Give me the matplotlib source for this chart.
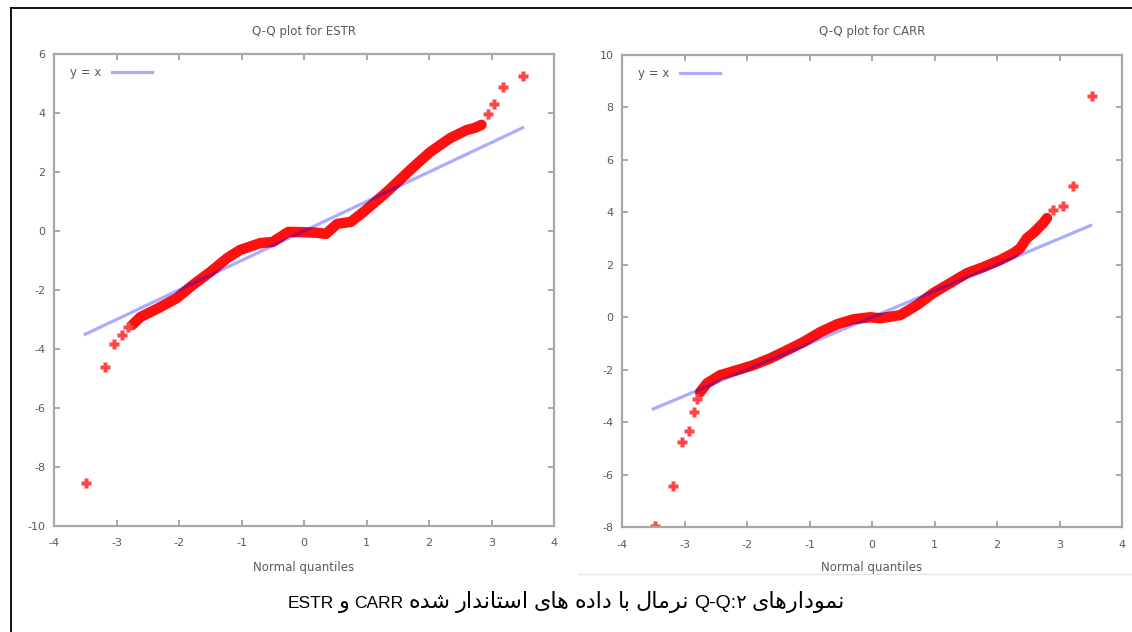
import matplotlib
matplotlib.use("Agg")
import matplotlib.pyplot as plt
from matplotlib.lines import Line2D

plt.rcParams["axes.unicode_minus"] = False

# ESTR: sample quantiles against normal quantiles
estr_body_q = [-2.75, -2.62, -2.30, -2.03, -1.78, -1.50, -1.23, -1.02, -0.70, -0.50,
               -0.25, 0.00, 0.21, 0.35, 0.53, 0.75, 0.96, 1.27, 1.48, 1.75,
               2.02, 2.34, 2.60, 2.74, 2.84]
estr_body_s = [-3.19, -2.92, -2.58, -2.27, -1.83, -1.39, -0.92, -0.64, -0.41, -0.37,
               -0.03, -0.04, -0.06, -0.10, 0.24, 0.31, 0.66, 1.22, 1.63, 2.17,
               2.68, 3.15, 3.42, 3.50, 3.60]
estr_tail_q = [-3.49, -3.18, -3.04, -2.91, -2.82, 2.95, 3.04, 3.19, 3.50]
estr_tail_s = [-8.54, -4.61, -3.83, -3.53, -3.25, 3.97, 4.30, 4.87, 5.25]

# CARR
carr_body_q = [-2.75, -2.64, -2.43, -2.16, -1.90, -1.63, -1.36, -1.10, -0.83, -0.56,
               -0.30, -0.03, 0.13, 0.45, 0.72, 0.98, 1.25, 1.52, 1.78, 2.05,
               2.26, 2.37, 2.48, 2.58, 2.74, 2.80]
carr_body_s = [-2.86, -2.52, -2.21, -2.02, -1.83, -1.57, -1.26, -0.95, -0.57, -0.27,
               -0.08, 0.00, -0.04, 0.08, 0.46, 0.92, 1.30, 1.68, 1.91, 2.18,
               2.44, 2.63, 3.02, 3.21, 3.59, 3.78]
carr_tail_q = [-3.47, -3.18, -3.04, -2.93, -2.85, -2.80, 2.90, 3.06, 3.22, 3.52]
carr_tail_s = [-7.98, -6.45, -4.77, -4.35, -3.63, -3.13, 4.08, 4.24, 5.00, 8.43]

ref_line = [-3.5, 3.5]

x_ticks = [-4, -3, -2, -1, 0, 1, 2, 3, 4]
estr_yticks = [-10, -8, -6, -4, -2, 0, 2, 4, 6]
carr_yticks = [-8, -6, -4, -2, 0, 2, 4, 6, 8, 10]

# caption words in reading (right to left) order
caption_words = ["نمودارهای", "Q-Q:۲", "نرمال", "با", "داده", "های",
                 "استاندار", "شده", "CARR", "و", "ESTR"]

# isolated, final, initial, medial presentation forms
FORMS = {
    'ا': ('\uFE8D', '\uFE8E', None, None),
    'ب': ('\uFE8F', '\uFE90', '\uFE91', '\uFE92'),
    'ت': ('\uFE95', '\uFE96', '\uFE97', '\uFE98'),
    'د': ('\uFEA9', '\uFEAA', None, None),
    'ر': ('\uFEAD', '\uFEAE', None, None),
    'س': ('\uFEB1', '\uFEB2', '\uFEB3', '\uFEB4'),
    'ش': ('\uFEB5', '\uFEB6', '\uFEB7', '\uFEB8'),
    'ل': ('\uFEDD', '\uFEDE', '\uFEDF', '\uFEE0'),
    'م': ('\uFEE1', '\uFEE2', '\uFEE3', '\uFEE4'),
    'ن': ('\uFEE5', '\uFEE6', '\uFEE7', '\uFEE8'),
    'ه': ('\uFEE9', '\uFEEA', '\uFEEB', '\uFEEC'),
    'و': ('\uFEED', '\uFEEE', None, None),
    'ی': ('\uFBFC', '\uFBFD', '\uFBFE', '\uFBFF'),
}


def is_arabic(word):
    return any(ch in FORMS for ch in word)


def shape(word):
    """Join Arabic letters and put them in visual (left to right) order."""
    if not is_arabic(word):
        return word
    out = []
    for i, ch in enumerate(word):
        f = FORMS.get(ch)
        if f is None:
            out.append(ch)
            continue
        prev = word[i - 1] if i > 0 else None
        nxt = word[i + 1] if i + 1 < len(word) else None
        join_prev = prev in FORMS and FORMS[prev][2] is not None
        join_next = nxt in FORMS and f[2] is not None
        if join_prev and join_next:
            out.append(f[3])
        elif join_prev:
            out.append(f[1])
        elif join_next:
            out.append(f[2])
        else:
            out.append(f[0])
    return ''.join(reversed(out))


W, H = 1132, 632
fig = plt.figure(figsize=(W / 100, H / 100), dpi=100)
fig.patch.set_facecolor("white")

FONT = "DejaVu Sans"
GRAY = "#9a9a9a"
TXT = "#5a5a5a"


def qq_panel(rect, body_q, body_s, tail_q, tail_s, yticks, title):
    ax = fig.add_axes(rect)
    ax.plot(body_q, body_s, color="#ff1010", lw=7.5, solid_capstyle="round",
            solid_joinstyle="round", zorder=2)
    ax.plot(tail_q, tail_s, ls="none", marker="P", ms=6.5, color="#ff4545",
            mec="none", zorder=2)
    ax.plot(ref_line, ref_line, color="blue", alpha=0.33, lw=2.3, zorder=3,
            label="y = x")
    ax.set_xlim(-4, 4)
    ax.set_ylim(yticks[0], yticks[-1])
    ax.set_xticks(x_ticks)
    ax.set_yticks(yticks)
    ax.tick_params(direction="in", length=4, width=1.2, color=GRAY,
                   top=True, right=True, labelsize=8, labelcolor=TXT)
    ax.tick_params(axis="x", pad=9)
    ax.tick_params(axis="y", pad=6)
    for lab in ax.get_xticklabels() + ax.get_yticklabels():
        lab.set_fontfamily(FONT)
    for sp in ax.spines.values():
        sp.set_color("#a8a8a8")
        sp.set_linewidth(1.6)
    leg = ax.legend(loc="upper left", bbox_to_anchor=(0.022, 0.985),
                    borderaxespad=0, frameon=False, markerfirst=False,
                    handlelength=3.4, handletextpad=0.9,
                    prop={"family": FONT, "size": 8.5})
    for t in leg.get_texts():
        t.set_color(TXT)
    x0, y0, w, h = rect
    fig.text(x0 + w / 2, 1 - 32 / H, title, ha="center", va="center",
             family=FONT, fontsize=8.5, color=TXT)
    fig.text(x0 + w / 2, 1 - 568 / H, "Normal quantiles", ha="center",
             va="center", family=FONT, fontsize=8.5, color=TXT)
    return ax


qq_panel([54 / W, 1 - 526 / H, 500 / W, 472 / H],
         estr_body_q, estr_body_s, estr_tail_q, estr_tail_s, estr_yticks,
         "Q-Q plot for ESTR")
qq_panel([622 / W, 1 - 527 / H, 500 / W, 472 / H],
         carr_body_q, carr_body_s, carr_tail_q, carr_tail_s, carr_yticks,
         "Q-Q plot for CARR")

# outer frame (left and top) and thin separator above the caption
fig.add_artist(Line2D([11 / W, 11 / W], [0, 1 - 8 / H], color="black", lw=1.3))
fig.add_artist(Line2D([11 / W, 1], [1 - 8 / H, 1 - 8 / H], color="black", lw=1.3))
fig.add_artist(Line2D([578 / W, 1], [1 - 574 / H, 1 - 574 / H], color="#e6e6e6", lw=1))

# caption: words laid out left to right in visual order, Persian a bit larger
renderer = fig.canvas.get_renderer()
gap = 5
pieces = []
for w in reversed(caption_words):
    if is_arabic(w):
        size = 16
    elif "Q" in w:
        size = 14
    else:
        size = 12.5
    t = fig.text(0, 1 - 608 / H, shape(w), ha="left", va="baseline",
                 family=["Liberation Sans", "DejaVu Sans"], fontsize=size,
                 color="black")
    pieces.append((t, t.get_window_extent(renderer).width))
total = sum(wd for _, wd in pieces) + gap * (len(pieces) - 1)
x = 566 - total / 2
for t, wd in pieces:
    t.set_x(x / W)
    x += wd + gap

fig.savefig("out.png", dpi=100, facecolor="white")
